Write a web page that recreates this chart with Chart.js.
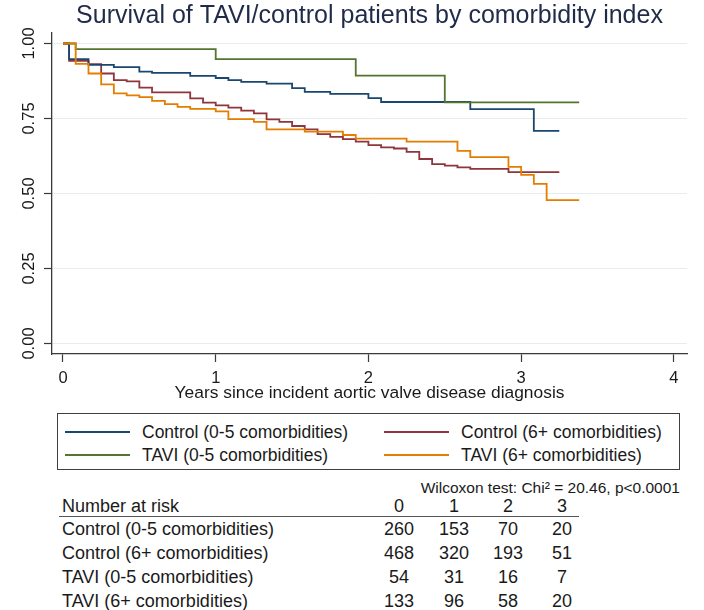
<!DOCTYPE html>
<html>
<head>
<meta charset="utf-8">
<title>Survival of TAVI/control patients by comorbidity index</title>
<script src="https://cdn.jsdelivr.net/npm/chart.js@4.4.1/dist/chart.umd.min.js"></script>
<style>
html,body{margin:0;padding:0;background:#fff;}
#page{position:relative;width:704px;height:610px;overflow:hidden;font-family:"Liberation Sans",Arial,Helvetica,sans-serif;color:#1a1a1a;}
#km{position:absolute;left:0;top:0;}
#legend{position:absolute;left:57px;top:413px;width:623px;height:57px;box-sizing:border-box;border:1px solid #404040;}
.lg-item{position:absolute;height:22px;line-height:22px;font-size:17.5px;white-space:nowrap;}
.lg-line{position:absolute;left:0;top:10px;width:65px;height:1.6px;}
.lg-text{position:absolute;left:77px;top:0;}
#note{position:absolute;right:24px;top:478px;font-size:15.5px;line-height:20px;white-space:nowrap;}
.rk{position:absolute;font-size:18px;line-height:22px;height:22px;white-space:nowrap;}
.rk.num{width:60px;text-align:center;}
#riskRule{position:absolute;left:59px;top:516px;width:520px;height:1px;background:#555;}
</style>
</head>
<body>
<div id="page">
  <canvas id="km" width="704" height="410"></canvas>
  <div id="legend"></div>
  <div id="note"></div>
  <div id="risk"></div>
</div>
<script>
// ---------- data ----------
const chartTitle = "Survival of TAVI/control patients by comorbidity index";
const xTitle = "Years since incident aortic valve disease diagnosis";
const seriesNames = ["Control (0-5 comorbidities)", "Control (6+ comorbidities)", "TAVI (0-5 comorbidities)", "TAVI (6+ comorbidities)"];

const xTicks = [0, 1, 2, 3, 4];
const xTickLabels = ["0", "1", "2", "3", "4"];
const yTicks = [0, 0.25, 0.5, 0.75, 1];
const yTickLabels = ["0.00", "0.25", "0.50", "0.75", "1.00"];

const control05Years = [0, 0.04, 0.167, 0.333, 0.5, 0.583, 0.833, 1.0, 1.083, 1.167, 1.333, 1.5, 1.583, 1.75, 2.0, 2.083, 2.667, 3.083, 3.25];
const control05Surv  = [1, 0.948, 0.929, 0.921, 0.906, 0.902, 0.892, 0.885, 0.878, 0.872, 0.866, 0.851, 0.839, 0.832, 0.818, 0.805, 0.781, 0.709, 0.709];

const control6Years = [0, 0.04, 0.167, 0.25, 0.333, 0.417, 0.5, 0.583, 0.833, 0.917, 1.0, 1.083, 1.167, 1.25, 1.333, 1.417, 1.5, 1.583, 1.667, 1.75, 1.833, 1.917, 2.0, 2.083, 2.167, 2.25, 2.333, 2.417, 2.5, 2.583, 2.667, 2.917, 3.25];
const control6Surv  = [1, 0.942, 0.931, 0.90, 0.878, 0.874, 0.853, 0.837, 0.817, 0.803, 0.794, 0.786, 0.776, 0.767, 0.747, 0.739, 0.725, 0.714, 0.698, 0.689, 0.681, 0.673, 0.661, 0.654, 0.650, 0.639, 0.615, 0.598, 0.593, 0.587, 0.582, 0.571, 0.571];

const tavi05Years = [0, 0.083, 1.0, 1.917, 2.5, 3.38];
const tavi05Surv  = [1, 0.981, 0.948, 0.893, 0.804, 0.804];

const tavi6Years = [0, 0.083, 0.167, 0.25, 0.333, 0.417, 0.5, 0.583, 0.667, 0.75, 0.833, 1.0, 1.083, 1.25, 1.333, 1.583, 1.833, 1.917, 2.25, 2.583, 2.667, 2.917, 3.0, 3.083, 3.167, 3.38];
const tavi6Surv  = [1, 0.932, 0.90, 0.864, 0.834, 0.827, 0.821, 0.809, 0.798, 0.789, 0.782, 0.774, 0.748, 0.739, 0.714, 0.706, 0.695, 0.683, 0.673, 0.642, 0.621, 0.589, 0.562, 0.532, 0.478, 0.478];

const testNote = "Wilcoxon test: Chi\u00b2 = 20.46, p<0.0001";
const riskHeader = "Number at risk";
const riskTimes = ["0", "1", "2", "3"];
const riskControl05 = [260, 153, 70, 20];
const riskControl6 = [468, 320, 193, 51];
const riskTavi05 = [54, 31, 16, 7];
const riskTavi6 = [133, 96, 58, 20];

// ---------- chart ----------
const FONT = '"Liberation Sans", Arial, Helvetica, sans-serif';
const AXIS = '#3a3a3a';
const toPoints = (xs, ys) => xs.map((x, i) => ({x: x, y: ys[i]}));

const htmlLegend = {
  id: 'htmlLegend',
  afterUpdate(chart, args, opts) {
    const box = document.getElementById(opts.containerID);
    box.innerHTML = '';
    chart.data.datasets.forEach((ds, i) => {
      const item = document.createElement('div');
      item.className = 'lg-item';
      item.style.left = opts.colLefts[i % 2] + 'px';
      item.style.top = opts.rowTops[Math.floor(i / 2)] + 'px';
      const line = document.createElement('span');
      line.className = 'lg-line';
      line.style.background = ds.borderColor;
      const txt = document.createElement('span');
      txt.className = 'lg-text';
      txt.textContent = ds.label;
      item.appendChild(line);
      item.appendChild(txt);
      box.appendChild(item);
    });
  }
};

new Chart(document.getElementById('km'), {
  type: 'line',
  data: {
    datasets: [
      {label: seriesNames[0], data: toPoints(control05Years, control05Surv), borderColor: '#1a476f', order: 2},
      {label: seriesNames[1], data: toPoints(control6Years, control6Surv), borderColor: '#90353b', order: 2},
      {label: seriesNames[2], data: toPoints(tavi05Years, tavi05Surv), borderColor: '#55752f', order: 1},
      {label: seriesNames[3], data: toPoints(tavi6Years, tavi6Surv), borderColor: '#e37e00', order: 0}
    ]
  },
  options: {
    responsive: false,
    animation: false,
    devicePixelRatio: 1,
    layout: {padding: {left: 0, right: 17, top: 0, bottom: 0}},
    elements: {
      line: {borderWidth: 1.8, stepped: 'before', fill: false, tension: 0},
      point: {radius: 0, hoverRadius: 0}
    },
    scales: {
      x: {
        type: 'linear', min: -0.072, max: 4.086,
        afterBuildTicks: s => { s.ticks = xTicks.map(v => ({value: v})); },
        afterFit: s => { s.height = 56; },
        grid: {drawOnChartArea: false, tickLength: 8, tickColor: AXIS, tickWidth: 1.2},
        border: {color: AXIS, width: 1.3},
        ticks: {font: {size: 16.5, family: FONT}, color: '#1a1a1a', padding: 7, maxRotation: 0, autoSkip: false,
                callback: (v, i) => xTickLabels[i]},
        title: {display: true, text: xTitle, font: {size: 17.4, family: FONT}, color: '#1a1a1a', padding: {top: 0, bottom: 6.6}}
      },
      y: {
        type: 'linear', min: -0.035, max: 1.035,
        afterBuildTicks: s => { s.ticks = yTicks.map(v => ({value: v})); },
        afterFit: s => { s.width = 52; },
        grid: {color: '#e6edf1', lineWidth: 1, tickLength: 8, tickColor: AXIS, tickWidth: 1.2},
        border: {color: AXIS, width: 1.3},
        ticks: {minRotation: 90, maxRotation: 90, crossAlign: 'center', padding: -2, autoSkip: false,
                font: {size: 16.5, family: FONT}, color: '#1a1a1a',
                callback: (v, i) => yTickLabels[i]}
      }
    },
    plugins: {
      legend: {display: false},
      tooltip: {enabled: false},
      title: {display: true, text: chartTitle, fullSize: false, color: '#1f2b48',
              font: {size: 25, weight: 'normal', family: FONT}, padding: {top: 1, bottom: 2}},
      htmlLegend: {containerID: 'legend', colLefts: [7, 326], rowTops: [7, 30]}
    }
  },
  plugins: [htmlLegend]
});

// ---------- note & risk table ----------
document.getElementById('note').textContent = testNote;
(function () {
  const risk = document.getElementById('risk');
  const colCenters = [399, 454, 508, 562];
  const rowCenters = [529, 553, 577, 600.5];
  const add = (cls, text, left, center) => {
    const d = document.createElement('div');
    d.className = cls;
    d.textContent = text;
    d.style.left = left + 'px';
    d.style.top = (center - 11) + 'px';
    risk.appendChild(d);
  };
  add('rk', riskHeader, 62, 505.5);
  riskTimes.forEach((t, j) => add('rk num', t, colCenters[j] - 30, 505.5));
  const rule = document.createElement('div');
  rule.id = 'riskRule';
  risk.appendChild(rule);
  const rows = [riskControl05, riskControl6, riskTavi05, riskTavi6];
  rows.forEach((vals, r) => {
    add('rk', seriesNames[r], 62, rowCenters[r]);
    vals.forEach((v, j) => add('rk num', String(v), colCenters[j] - 30, rowCenters[r]));
  });
})();
</script>
</body>
</html>
